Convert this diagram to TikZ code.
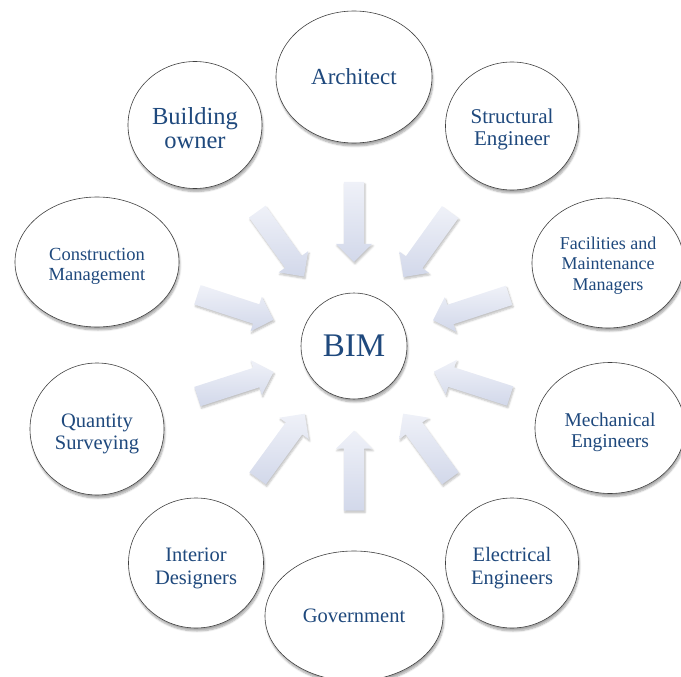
\documentclass[tikz,border=0pt]{standalone}
\usepackage{fontspec}
\setmainfont{Liberation Serif}
\usetikzlibrary{shapes.geometric,shapes.arrows,shadows.blur}

\definecolor{bimtext}{HTML}{1F497D}
\definecolor{arrowlight}{HTML}{EFF1F8}
\definecolor{arrowdark}{HTML}{D2D8EA}

% invisible strut: a taller first line pushes a label down
\newcommand{\lift}[1]{\rule{0pt}{#1}}

\tikzset{
  party/.style={ellipse, draw=black!75, line width=0.6pt, fill=white,
    align=center, text=bimtext, inner sep=0pt,
    blur shadow={shadow xshift=1pt, shadow yshift=-3pt,
      shadow blur steps=6, shadow opacity=35}},
  feed/.style={single arrow, single arrow head extend=8pt,
    minimum height=80pt, inner xsep=0pt, inner ysep=10pt,
    top color=arrowlight, bottom color=arrowdark, draw=none,
    sloped, allow upside down,
    blur shadow={shadow xshift=1pt, shadow yshift=-2pt,
      shadow blur steps=5, shadow opacity=25}}
}

\begin{document}
\begin{tikzpicture}[x=1pt,y=-1pt]
    \useasboundingbox (0,0) rectangle (681,677);

    % Draw the model in the middle
    \node[party, circle, minimum size=106pt, font=\fontsize{33}{36}\selectfont] (bim) at (354,346) {BIM};

    % Draw the parties round it
    \node[party, minimum width=156pt, minimum height=132pt, font=\fontsize{23}{25}\selectfont] (arch) at (354,77) {Architect};
    \node[party, minimum width=134pt, minimum height=127pt, font=\fontsize{24.5}{24}\selectfont] (owner) at (195,125) {\lift{23pt}Building\\owner};
    \node[party, minimum width=133pt, minimum height=128pt, font=\fontsize{21}{22}\selectfont] (struct) at (512,126) {\lift{22pt}Structural\\Engineer};
    \node[party, minimum width=164pt, minimum height=130pt, font=\fontsize{18.5}{20}\selectfont] (constr) at (97,262) {\lift{20.5pt}Construction\\Management};
    \node[party, minimum width=152pt, minimum height=130pt, font=\fontsize{18}{20.5}\selectfont] (facil) at (608,263) {\lift{17.5pt}Facilities and\\Maintenance\\Managers};
    \node[party, minimum width=134pt, minimum height=132pt, font=\fontsize{20.5}{22}\selectfont] (quant) at (97,429) {\lift{23pt}Quantity\\Surveying};
    \node[party, minimum width=150pt, minimum height=131pt, font=\fontsize{19.5}{21.5}\selectfont] (mech) at (610,428) {\lift{22.5pt}Mechanical\\Engineers};
    \node[party, minimum width=135pt, minimum height=130pt, font=\fontsize{20.5}{23}\selectfont] (inter) at (196,563) {\lift{24pt}Interior\\Designers};
    \node[party, minimum width=133pt, minimum height=130pt, font=\fontsize{20.5}{22.5}\selectfont] (elec) at (512,563) {\lift{24pt}Electrical\\Engineers};
    \node[party, minimum width=178pt, minimum height=130pt, font=\fontsize{20.5}{22}\selectfont] (gov) at (354,616) {Government};

    % Draw the arrows pointing in to BIM
    \foreach \who in {arch,owner,struct,constr,facil,quant,mech,inter,elec,gov}
        \path (\who.center) -- (bim.center) node[feed, pos=0.52] {};
\end{tikzpicture}
\end{document}
